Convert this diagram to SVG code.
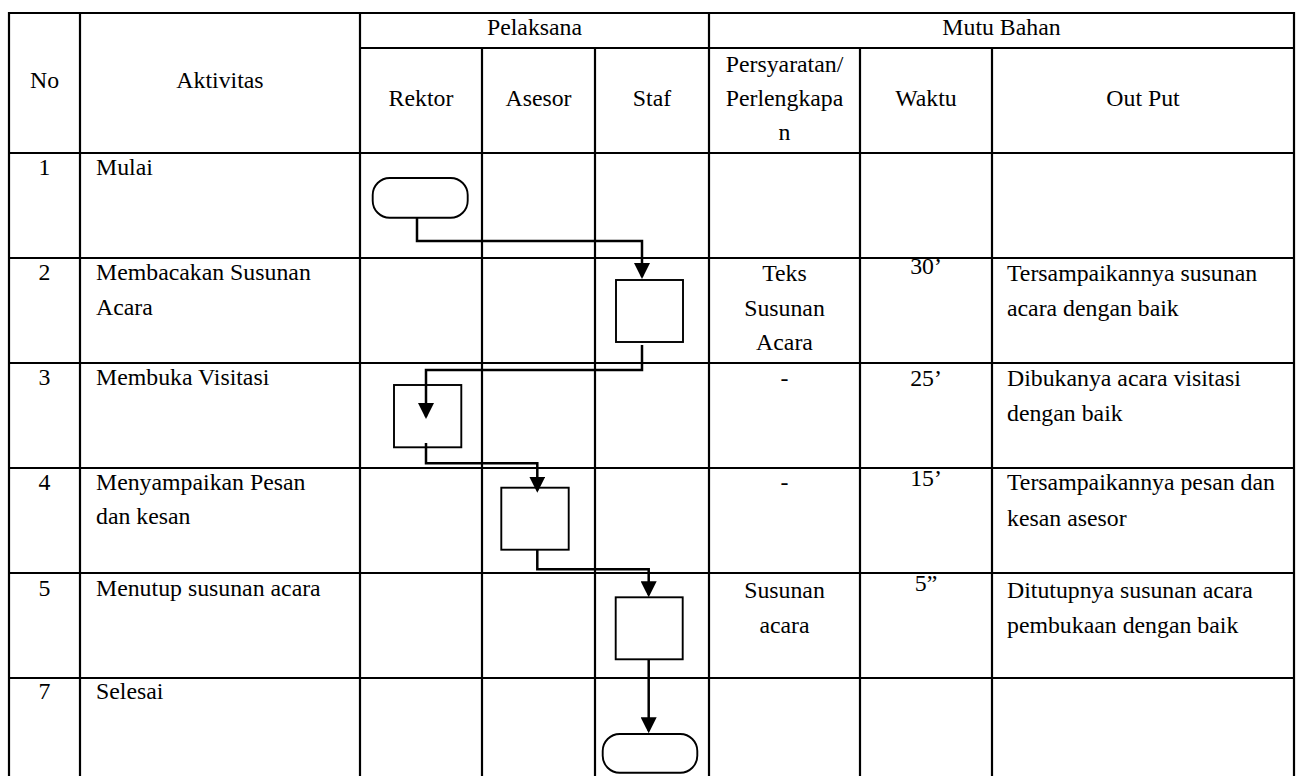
<svg xmlns="http://www.w3.org/2000/svg" width="1296" height="776" viewBox="0 0 1296 776">
<style>
.t text{font-size:23.8px;fill:#000}
.c{text-anchor:middle}
.grid line{stroke:#000;stroke-width:2.2}
.shape{fill:#fff;stroke:#000;stroke-width:1.9}
.conn path{fill:none;stroke:#000;stroke-width:2.5}
</style>
<defs>
<marker id="arr" markerUnits="userSpaceOnUse" markerWidth="16" markerHeight="16" refX="13.5" refY="8" orient="auto">
<path d="M0,0 L16,8 L0,16 z" fill="#000"/>
</marker>
</defs>
<rect width="1296" height="776" fill="#fff"/>
<g id="table" class="grid">
<line x1="9" y1="13" x2="1294" y2="13"/>
<line x1="360" y1="48" x2="1294" y2="48"/>
<line x1="9" y1="153" x2="1294" y2="153"/>
<line x1="9" y1="258" x2="1294" y2="258"/>
<line x1="9" y1="363" x2="1294" y2="363"/>
<line x1="9" y1="468" x2="1294" y2="468"/>
<line x1="9" y1="573" x2="1294" y2="573"/>
<line x1="9" y1="678" x2="1294" y2="678"/>
<line x1="9" y1="12" x2="9" y2="780"/>
<line x1="80" y1="12" x2="80" y2="780"/>
<line x1="360" y1="12" x2="360" y2="780"/>
<line x1="482" y1="48" x2="482" y2="780"/>
<line x1="595" y1="48" x2="595" y2="780"/>
<line x1="709" y1="12" x2="709" y2="780"/>
<line x1="860" y1="48" x2="860" y2="780"/>
<line x1="992" y1="48" x2="992" y2="780"/>
<line x1="1294" y1="12" x2="1294" y2="780"/>
</g>
<g class="t" font-family="'Liberation Serif', Tinos, 'Times New Roman', 'DejaVu Serif', serif">
<g id="header">
<text class="c" x="44.5" y="88">No</text>
<text class="c" x="220" y="88">Aktivitas</text>
<text class="c" x="534.5" y="35">Pelaksana</text>
<text class="c" x="1001.5" y="35">Mutu Bahan</text>
<text class="c" x="421" y="106">Rektor</text>
<text class="c" x="538.5" y="106">Asesor</text>
<text class="c" x="652" y="106">Staf</text>
<text class="c" x="784.5" y="72">Persyaratan/</text>
<text class="c" x="784.5" y="106">Perlengkapa</text>
<text class="c" x="784.5" y="140">n</text>
<text class="c" x="926" y="106">Waktu</text>
<text class="c" x="1143" y="106">Out Put</text>
</g>
<g id="row1">
<text class="c" x="44.5" y="175">1</text>
<text x="96" y="175">Mulai</text>
</g>
<g id="row2">
<text class="c" x="44.5" y="279.5">2</text>
<text x="96" y="279.5">Membacakan Susunan</text>
<text x="96" y="314.5">Acara</text>
<text class="c" x="784.5" y="280.5">Teks</text>
<text class="c" x="784.5" y="316">Susunan</text>
<text class="c" x="784.5" y="350">Acara</text>
<text class="c" x="926" y="274">30’</text>
<text x="1007" y="280.5">Tersampaikannya susunan</text>
<text x="1007" y="316">acara dengan baik</text>
</g>
<g id="row3">
<text class="c" x="44.5" y="384.5">3</text>
<text x="96" y="384.5">Membuka Visitasi</text>
<text class="c" x="784.5" y="386">-</text>
<text class="c" x="926" y="386">25’</text>
<text x="1007" y="386">Dibukanya acara visitasi</text>
<text x="1007" y="421">dengan baik</text>
</g>
<g id="row4">
<text class="c" x="44.5" y="490">4</text>
<text x="96" y="490">Menyampaikan Pesan</text>
<text x="96" y="524">dan kesan</text>
<text class="c" x="784.5" y="490">-</text>
<text class="c" x="926" y="486">15’</text>
<text x="1007" y="490">Tersampaikannya pesan dan</text>
<text x="1007" y="525.5">kesan asesor</text>
</g>
<g id="row5">
<text class="c" x="44.5" y="596">5</text>
<text x="96" y="596">Menutup susunan acara</text>
<text class="c" x="784.5" y="597.5">Susunan</text>
<text class="c" x="784.5" y="632.5">acara</text>
<text class="c" x="926" y="591">5”</text>
<text x="1007" y="597.5">Ditutupnya susunan acara</text>
<text x="1007" y="632.5">pembukaan dengan baik</text>
</g>
<g id="row7">
<text class="c" x="44.5" y="698.5">7</text>
<text x="96" y="698.5">Selesai</text>
</g>
</g>
<g id="start"><rect class="shape" x="372.7" y="178" width="95" height="39.7" rx="17"/></g>
<g id="box2"><rect class="shape" x="616" y="280" width="67" height="62"/></g>
<g id="box3"><rect class="shape" x="394" y="385" width="67.3" height="62.3"/></g>
<g id="box4"><rect class="shape" x="501.3" y="487.7" width="67.4" height="62"/></g>
<g id="box5"><rect class="shape" x="615.7" y="597.3" width="67" height="62"/></g>
<g id="end"><rect class="shape" x="602.7" y="734" width="94.6" height="38.7" rx="17"/></g>
<g id="connectors" class="conn">
<path d="M417,218 V241 H642 V276.5" marker-end="url(#arr)"/>
<path d="M642,345 V370 H426 V416.5" marker-end="url(#arr)"/>
<path d="M426,443 V463.3 H537.3 V490.2" marker-end="url(#arr)"/>
<path d="M537.3,549.7 V569.3 H648.7 V594.8" marker-end="url(#arr)"/>
<path d="M648.7,659.3 V730.8" marker-end="url(#arr)"/>
</g>
</svg>
